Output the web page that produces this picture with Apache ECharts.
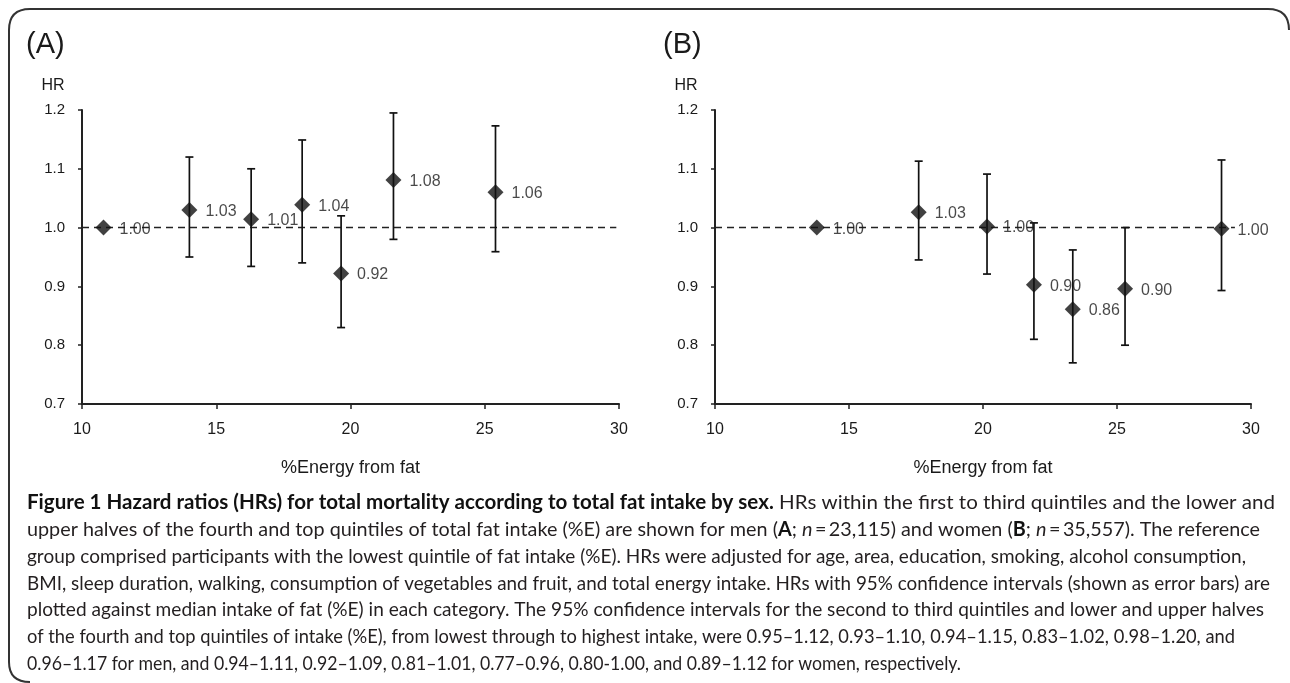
<!DOCTYPE html>
<html>
<head>
<meta charset="utf-8">
<script src="https://cdn.jsdelivr.net/npm/echarts@6/dist/echarts.min.js"></script>
<style>
html,body{margin:0;padding:0;background:#fff;}
#chart{width:1290px;height:683px;}
</style>
</head>
<body>
<div id="chart"></div>
<script>
// ---- Data ----
// Panel A: men
const xA = [10.8, 14.0, 16.3, 18.2, 19.65, 21.6, 25.4];
const hrA = [1.00, 1.03, 1.014, 1.039, 0.922, 1.081, 1.06];
const lowA = [null, 0.95, 0.934, 0.94, 0.83, 0.98, 0.959];
const highA = [null, 1.12, 1.10, 1.149, 1.02, 1.195, 1.173];
const labelsA = ['1.00', '1.03', '1.01', '1.04', '0.92', '1.08', '1.06'];
// Panel B: women
const xB = [13.8, 17.6, 20.15, 21.9, 23.35, 25.3, 28.9];
const hrB = [1.00, 1.026, 1.002, 0.903, 0.861, 0.896, 0.998];
const lowB = [null, 0.945, 0.921, 0.81, 0.77, 0.80, 0.893];
const highB = [null, 1.113, 1.091, 1.008, 0.962, 1.00, 1.115];
const labelsB = ['1.00', '1.03', '1.00', '0.90', '0.86', '0.90', '1.00'];
// Reference line (HR = 1.0) extents
const refXA = [10, 29.9];
const refXB = [10, 29.4];
const refY = 1.0;
// Axis ticks
const xTicks = [10, 15, 20, 25, 30];
const yTicks = [0.7, 0.8, 0.9, 1.0, 1.1, 1.2];
const xName = '%Energy from fat';
const yName = 'HR';
const panelTitles = ['(A)', '(B)'];
const captionLines = [
  '{b|Figure 1 Hazard ratios (HRs) for total mortality according to total fat intake by sex.} HRs within the first to third quintiles and the lower and',
  'upper halves of the fourth and top quintiles of total fat intake (%E) are shown for men ({b|A}; {i|n}\u2009=\u200923,115) and women ({b|B}; {i|n}\u2009=\u200935,557). The reference',
  'group comprised participants with the lowest quintile of fat intake (%E). HRs were adjusted for age, area, education, smoking, alcohol consumption,',
  'BMI, sleep duration, walking, consumption of vegetables and fruit, and total energy intake. HRs with 95% confidence intervals (shown as error bars) are',
  'plotted against median intake of fat (%E) in each category. The 95% confidence intervals for the second to third quintiles and lower and upper halves',
  'of the fourth and top quintiles of intake (%E), from lowest through to highest intake, were 0.95\u20131.12, 0.93\u20131.10, 0.94\u20131.15, 0.83\u20131.02, 0.98\u20131.20, and',
  '0.96\u20131.17 for men, and 0.94\u20131.11, 0.92\u20131.09, 0.81\u20131.01, 0.77\u20130.96, 0.80-1.00, and 0.89\u20131.12 for women, respectively.'
];
// right edge of each caption line in the reference layout
const captionRight = [1275, 1260, 1246, 1270, 1264, 1235, 961];

const FONT = '"Liberation Sans", Arial, sans-serif';
const CAPFAMILY = 'Lato';
const CAPSIZE = 20;
const INK = '#1a1a1a';

function xAxisCfg(gi) {
  return {
    gridIndex: gi, type: 'value', min: xTicks[0], max: xTicks[xTicks.length - 1],
    interval: xTicks[1] - xTicks[0],
    name: xName, nameLocation: 'middle', nameGap: 55,
    nameTextStyle: { fontFamily: FONT, fontSize: 18, color: INK },
    axisLine: { show: true, onZero: false, lineStyle: { color: '#222', width: 2 } },
    axisTick: { show: true, length: 5, lineStyle: { color: '#222', width: 1.5 } },
    axisLabel: { fontFamily: FONT, fontSize: 16, color: INK, margin: 18 },
    splitLine: { show: false }
  };
}
function yAxisCfg(gi) {
  return {
    gridIndex: gi, type: 'value', min: yTicks[0], max: yTicks[yTicks.length - 1],
    interval: 0.1,
    axisLine: { show: true, onZero: false, lineStyle: { color: '#222', width: 2 } },
    axisTick: { show: true, length: 4, lineStyle: { color: '#222', width: 1.5 } },
    axisLabel: { fontFamily: FONT, fontSize: 15, color: INK, margin: 17,
      formatter: v => v.toFixed(1) },
    splitLine: { show: false }
  };
}

function errData(xs, lo, hi) {
  const out = [];
  xs.forEach((x, i) => { if (lo[i] != null) out.push([x, lo[i], hi[i]]); });
  return out;
}
function renderErr(params, api) {
  const x = api.value(0);
  const p1 = api.coord([x, api.value(1)]);
  const p2 = api.coord([x, api.value(2)]);
  const hw = 4;
  const st = { stroke: '#111', lineWidth: 1.7 };
  return {
    type: 'group',
    children: [
      { type: 'line', shape: { x1: p1[0], y1: p1[1], x2: p2[0], y2: p2[1] }, style: st },
      { type: 'line', shape: { x1: p1[0] - hw, y1: p1[1], x2: p1[0] + hw, y2: p1[1] }, style: st },
      { type: 'line', shape: { x1: p2[0] - hw, y1: p2[1], x2: p2[0] + hw, y2: p2[1] }, style: st }
    ]
  };
}

function panelSeries(gi, xs, hr, lo, hi, labels, refX) {
  return [
    {
      type: 'line', xAxisIndex: gi, yAxisIndex: gi, silent: true, symbol: 'none', z: 1,
      data: refX.map(x => [x, refY]),
      lineStyle: { color: '#222', width: 1.5, type: [7, 5] }
    },
    {
      type: 'custom', xAxisIndex: gi, yAxisIndex: gi, silent: true, z: 2,
      renderItem: renderErr, encode: { x: 0, y: [1, 2] },
      data: errData(xs, lo, hi)
    },
    {
      type: 'scatter', xAxisIndex: gi, yAxisIndex: gi, z: 3,
      symbol: 'diamond', symbolSize: 16,
      itemStyle: { color: '#111' },
      data: xs.map((x, i) => [x, hr[i]]),
      label: {
        show: true, position: 'right', distance: 8, offset: [0, 1.5],
        fontFamily: FONT, fontSize: 16, color: INK,
        formatter: p => labels[p.dataIndex]
      }
    }
  ];
}

// measure a rich caption line to fit it to the reference line width
const mctx = document.createElement('canvas').getContext('2d');
function measureLine(line) {
  let total = 0, last = 0, m;
  const re = /\{(\w)\|([^}]*)\}/g;
  const seg = (txt, style, weight) => {
    mctx.font = `${style} ${weight} ${CAPSIZE}px ${CAPFAMILY}`;
    total += mctx.measureText(txt).width;
  };
  while ((m = re.exec(line))) {
    seg(line.slice(last, m.index), 'normal', 'normal');
    seg(m[2], m[1] === 'i' ? 'italic' : 'normal', m[1] === 'b' ? 'bold' : 'normal');
    last = re.lastIndex;
  }
  seg(line.slice(last), 'normal', 'normal');
  return total;
}

const graphics = [];
// frame (open rounded box)
const frameStyle = { fill: 'none', stroke: '#333', lineWidth: 2 };
graphics.push({ type: 'line', shape: { x1: 30, y1: 9, x2: 1268, y2: 9 }, style: frameStyle });
graphics.push({ type: 'line', shape: { x1: 9, y1: 30, x2: 9, y2: 662 }, style: frameStyle });
graphics.push({ type: 'bezierCurve', shape: { x1: 9, y1: 30, cpx1: 9, cpy1: 9, x2: 30, y2: 9 }, style: frameStyle });
graphics.push({ type: 'bezierCurve', shape: { x1: 1268, y1: 9, cpx1: 1289, cpy1: 9, x2: 1289, y2: 30 }, style: frameStyle });
graphics.push({ type: 'bezierCurve', shape: { x1: 9, y1: 662, cpx1: 9, cpy1: 682, x2: 30, y2: 682 }, style: frameStyle });
// panel titles and HR labels
[[26, 53], [663, 686]].forEach((pos, i) => {
  graphics.push({ type: 'text', style: { text: panelTitles[i], x: pos[0], y: 45,
    fontFamily: FONT, fontSize: 29, fill: INK, verticalAlign: 'middle', align: 'left' } });
  graphics.push({ type: 'text', style: { text: yName, x: pos[1], y: 86,
    fontFamily: FONT, fontSize: 16, fill: INK, verticalAlign: 'middle', align: 'center' } });
});
// caption
const capX = 27, capY0 = 503, capDy = 26.7;
captionLines.forEach((line, i) => {
  const w = measureLine(line);
  const k = w > 0 ? (captionRight[i] - capX) / w : 1;
  graphics.push({
    type: 'text',
    x: capX, y: capY0 + i * capDy, scaleX: k,
    style: {
      text: line, x: 0, y: 0,
      fontFamily: CAPFAMILY, fontSize: CAPSIZE, fill: '#231f20',
      verticalAlign: 'middle', align: 'left',
      rich: {
        b: { fontFamily: CAPFAMILY, fontSize: CAPSIZE, fontWeight: 'bold', fill: '#111' },
        i: { fontFamily: CAPFAMILY, fontSize: CAPSIZE, fontStyle: 'italic', fill: '#231f20' }
      }
    }
  });
});

const option = {
  animation: false,
  backgroundColor: '#fff',
  grid: [
    { left: 82, right: 671, top: 110, bottom: 279 },
    { left: 715, right: 39, top: 110, bottom: 279 }
  ],
  xAxis: [xAxisCfg(0), xAxisCfg(1)],
  yAxis: [yAxisCfg(0), yAxisCfg(1)],
  series: [
    ...panelSeries(0, xA, hrA, lowA, highA, labelsA, refXA),
    ...panelSeries(1, xB, hrB, lowB, highB, labelsB, refXB)
  ],
  graphic: graphics
};

const chart = echarts.init(document.getElementById('chart'), null, { renderer: 'canvas' });
chart.setOption(option);
</script>
</body>
</html>
